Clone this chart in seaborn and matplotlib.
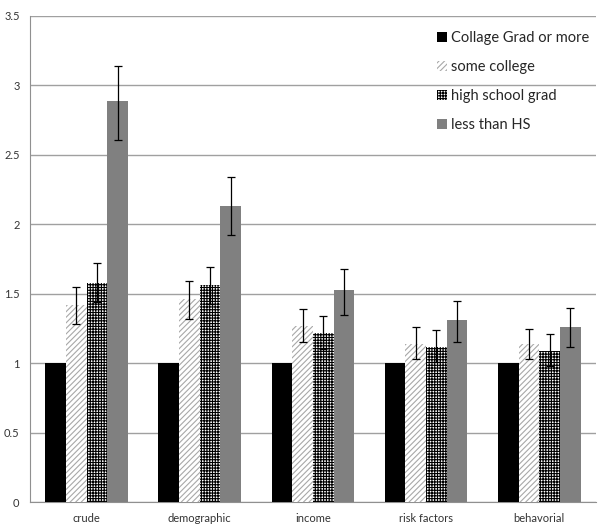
import pandas as pd
import numpy as np
import matplotlib
matplotlib.use("Agg")
import matplotlib.pyplot as plt
import seaborn as sns

# values
models = ["crude", "demographic", "income", "risk factors", "behavorial"]
groups = ["Collage Grad or more", "some college", "high school grad", "less than HS"]

college_grad = [1, 1, 1, 1, 1]
some_college = [1.42, 1.46, 1.27, 1.14, 1.14]
hs_grad = [1.58, 1.56, 1.22, 1.12, 1.09]
less_hs = [2.89, 2.13, 1.53, 1.31, 1.26]

some_college_lo = [1.28, 1.32, 1.15, 1.03, 1.03]
some_college_hi = [1.55, 1.59, 1.39, 1.26, 1.25]
hs_grad_lo = [1.44, 1.43, 1.10, 1.01, 0.98]
hs_grad_hi = [1.72, 1.69, 1.34, 1.24, 1.21]
less_hs_lo = [2.61, 1.92, 1.35, 1.15, 1.12]
less_hs_hi = [3.14, 2.34, 1.68, 1.45, 1.40]

df = pd.DataFrame({
    "model": models * 4,
    "group": np.repeat(groups, len(models)),
    "value": college_grad + some_college + hs_grad + less_hs,
})

sns.set_style("white")
plt.rcParams["font.family"] = ["Lato", "DejaVu Sans"]
plt.rcParams["hatch.linewidth"] = 0.8

fig, ax = plt.subplots(figsize=(6, 5.26), dpi=100)
fig.subplots_adjust(left=0.05, right=0.993, top=0.97, bottom=0.045)

palette = ["black", "white", "white", "#808080"]
sns.barplot(data=df, x="model", y="value", hue="group", palette=palette,
            width=0.73, saturation=1, errorbar=None, ax=ax, zorder=3)

hatches = [None, "//////", "++++++", None]
hatch_colors = [None, "#a8a8a8", "black", None]
lows = [None, some_college_lo, hs_grad_lo, less_hs_lo]
highs = [None, some_college_hi, hs_grad_hi, less_hs_hi]
bar_groups = list(ax.containers)
for i, cont in enumerate(bar_groups):
    for j, bar in enumerate(cont):
        bar.set_linewidth(0)
        if hatches[i]:
            bar.set_hatch(hatches[i])
            bar.set_edgecolor(hatch_colors[i])
        if lows[i] is not None:
            x = bar.get_x() + bar.get_width() / 2
            y = bar.get_height()
            ax.errorbar(x, y, yerr=[[y - lows[i][j]], [highs[i][j] - y]],
                        fmt="none", ecolor="black", elinewidth=0.9,
                        capsize=3, capthick=0.9, zorder=4)

ax.set_xlim(-0.5, len(models) - 0.5)
ax.set_ylim(0, 3.5)
ax.set_yticks(np.arange(0, 3.51, 0.5))
ax.set_yticklabels(["0", "0.5", "1", "1.5", "2", "2.5", "3", "3.5"])
ax.yaxis.grid(True, color="#a0a0a0", linewidth=1, zorder=0)
ax.set_axisbelow(True)
ax.set_xlabel("")
ax.set_ylabel("")
ax.tick_params(axis="both", labelsize=8, colors="#333333", length=4)
ax.tick_params(axis="x", length=0, pad=8)
for s in ["top", "right"]:
    ax.spines[s].set_visible(False)
for s in ["left", "bottom"]:
    ax.spines[s].set_color("#909090")

# minor ticks between categories on the x axis
ax.set_xticks(np.arange(-0.5, len(models)), minor=True)
ax.tick_params(axis="x", which="minor", length=4, color="#909090")

handles, labels = ax.get_legend_handles_labels()
leg = ax.legend(handles, labels, loc="upper right", bbox_to_anchor=(1.012, 0.995),
                frameon=False, fontsize=10.5, handlelength=0.7, handleheight=0.7,
                handletextpad=0.3, labelspacing=1.02)
for h, hc, ht in zip(leg.legend_handles, hatch_colors, hatches):
    h.set_linewidth(0)
    if hc:
        h.set_edgecolor(hc)
        h.set_hatch(ht)

fig.savefig("out.png", dpi=100)
